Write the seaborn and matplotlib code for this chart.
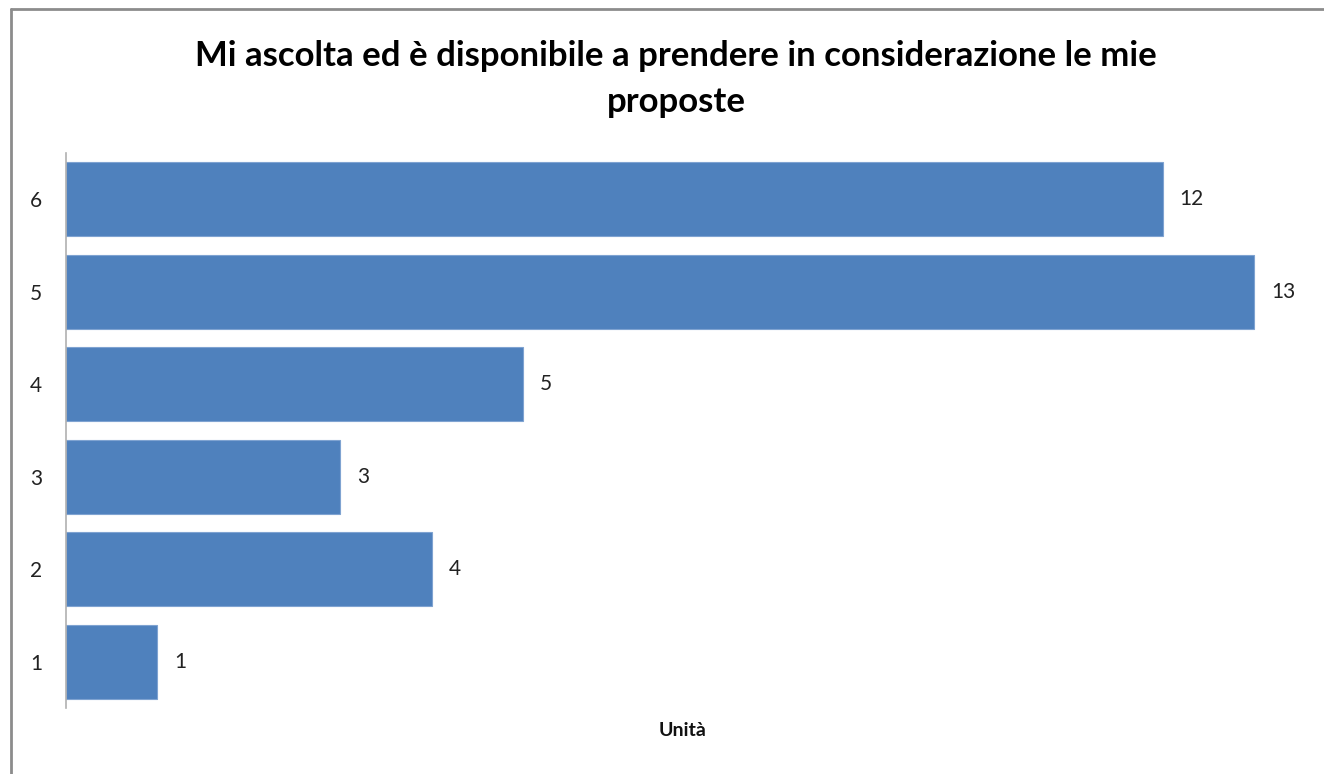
import matplotlib
matplotlib.use("Agg")
import matplotlib.pyplot as plt
import pandas as pd
import seaborn as sns
from matplotlib.lines import Line2D

# ---------------------------------------------------------------------------
CATEGORIES = ["6", "5", "4", "3", "2", "1"]
VALUES     = [12, 13, 5, 3, 4, 1]
TITLE      = "Mi ascolta ed è disponibile a prendere in considerazione le mie\nproposte"
XLABEL     = "Unità"
BAR_COLOR  = "#4F81BD"

sns.set_theme(style="white")
plt.rcParams["font.family"] = ["Lato", "DejaVu Sans"]

df = pd.DataFrame({"score": CATEGORIES, "count": VALUES})

fig = plt.figure(figsize=(13.24, 7.74), dpi=100)
ax = fig.add_axes([66 / 1324, 66 / 774, 1234 / 1324, 555 / 774])

sns.barplot(data=df, x="count", y="score", order=CATEGORIES, orient="h",
            color=BAR_COLOR, saturation=1, width=0.8,
            edgecolor="#7FA3D1", linewidth=0.8, ax=ax)

ax.set_xlim(0, 13.5)
ax.set_ylim(5.5, -0.5)
ax.set_xticks([])
for side in ["top", "right", "bottom"]:
    ax.spines[side].set_visible(False)
ax.spines["left"].set_color("#B0B0B0")
ax.spines["left"].set_linewidth(1.2)
ax.tick_params(axis="y", length=0, pad=17, labelsize=15, labelcolor="#222222")
ax.set_ylabel("")
ax.set_xlabel(XLABEL, fontsize=14, fontweight="bold", labelpad=10, color="#111111")

for cont in ax.containers:
    ax.bar_label(cont, padding=12, fontsize=15, color="#222222")

fig.text(676 / 1324, 1 - 79 / 774, TITLE, ha="center", va="center",
         fontsize=25, fontweight="bold", linespacing=1.5, color="black")

# outer chart border (left and top visible)
fig.add_artist(Line2D([11 / 1324, 11 / 1324], [0, 1 - 9 / 774],
                      transform=fig.transFigure, color="#8C8C8C", linewidth=2))
fig.add_artist(Line2D([11 / 1324, 1], [1 - 9 / 774, 1 - 9 / 774],
                      transform=fig.transFigure, color="#8C8C8C", linewidth=2))

fig.savefig("out.png", dpi=100)
plt.close(fig)
